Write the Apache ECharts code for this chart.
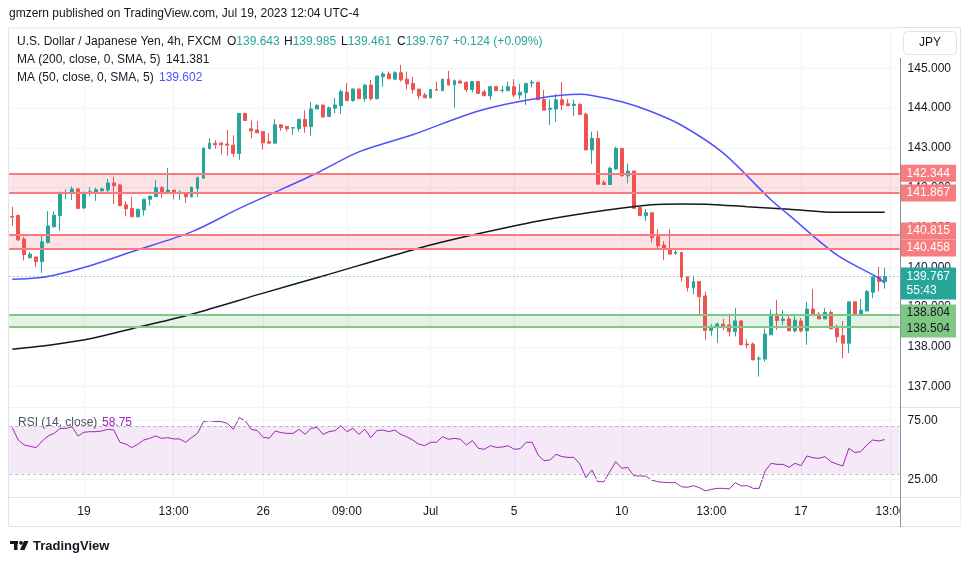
<!DOCTYPE html>
<html>
<head>
<meta charset="utf-8">
<script src="https://cdn.jsdelivr.net/npm/echarts@6/dist/echarts.min.js"></script>
<style>
  html, body { margin: 0; padding: 0; background: #fff; }
  #chart { width: 970px; height: 563px; }
</style>
</head>
<body>
<div id="chart"></div>
<script>
// USD/JPY 4h candles (FXCM), 15 Jun - 19 Jul 2023
var openP = [141.28,141.30,140.71,140.24,140.26,140.14,140.62,141.02,141.30,141.85,
  141.86,141.97,141.49,141.85,141.89,141.92,141.94,142.12,142.07,141.57,
  141.48,141.27,141.44,141.71,141.78,142.00,141.88,141.94,141.88,141.88,
  141.77,141.98,142.24,142.98,143.12,143.12,143.10,143.07,142.86,143.87,
  143.48,143.45,143.41,143.16,143.12,143.58,143.54,143.50,143.49,143.72,
  143.54,143.98,144.08,143.79,144.00,144.06,144.40,144.19,144.48,144.24,
  144.58,144.24,144.79,144.86,144.73,144.89,144.73,144.62,144.48,144.33,
  144.26,144.47,144.44,144.73,144.59,144.68,144.65,144.47,144.67,144.41,
  144.31,144.54,144.44,144.44,144.54,144.33,144.39,144.63,144.65,144.22,
  143.97,143.98,144.21,144.11,144.07,144.09,143.85,142.95,143.24,142.13,
  142.08,142.47,142.99,142.30,142.42,141.50,141.30,141.37,140.77,140.56,
  140.47,140.35,140.37,139.76,139.49,139.64,139.28,138.41,138.48,138.57,
  138.55,138.38,138.65,138.07,138.07,137.69,137.69,138.30,138.82,138.66,
  138.70,138.40,138.65,138.40,138.95,138.82,138.70,138.86,138.46,138.28,
  138.09,139.13,138.80,138.90,139.37,139.76,139.643];
var closeP = [141.26,140.69,140.32,140.33,140.14,140.64,141.04,141.31,141.88,141.88,
  141.97,141.48,141.88,141.90,141.95,141.97,142.12,142.05,141.55,141.47,
  141.27,141.46,141.71,141.79,142.00,141.88,141.94,141.88,141.89,141.77,
  142.01,142.25,143.00,143.12,143.08,143.08,143.07,142.86,143.87,143.69,
  143.43,143.38,143.13,143.12,143.58,143.51,143.48,143.51,143.72,143.54,
  143.98,144.07,143.78,144.01,144.08,144.42,144.19,144.48,144.24,144.58,
  144.24,144.81,144.86,144.74,144.89,144.71,144.61,144.47,144.31,144.26,
  144.47,144.45,144.73,144.58,144.69,144.63,144.47,144.67,144.37,144.31,
  144.54,144.44,144.45,144.54,144.33,144.40,144.62,144.65,144.21,143.95,
  144.00,144.21,144.08,144.06,144.10,143.84,142.95,143.24,142.09,142.08,
  142.49,142.99,142.30,142.42,141.48,141.30,141.37,140.74,140.54,140.46,
  140.33,140.37,139.75,139.49,139.64,139.26,138.41,138.51,138.57,138.52,
  138.38,138.65,138.05,138.05,137.67,137.71,138.32,138.82,138.66,138.70,
  138.40,138.67,138.40,138.95,138.80,138.70,138.86,138.45,138.25,138.09,
  139.13,138.80,138.92,139.39,139.76,139.64,139.767];
var lowP = [141.04,140.66,140.17,140.22,140.01,139.86,140.60,141.00,140.92,141.71,
  141.69,141.46,141.46,141.79,141.67,141.92,141.84,141.59,141.53,141.28,
  141.27,141.25,141.30,141.55,141.77,141.73,141.88,141.71,141.69,141.62,
  141.76,141.77,142.23,142.98,142.98,142.84,142.80,142.78,142.70,143.69,
  143.24,143.38,142.96,143.12,143.12,143.43,143.41,143.33,143.41,143.38,
  143.30,143.98,143.76,143.79,143.87,143.85,144.19,144.16,144.24,144.16,
  144.19,144.22,144.54,144.74,144.71,144.67,144.47,144.37,144.22,144.25,
  144.25,144.45,144.43,144.57,144.01,144.63,144.41,144.40,144.36,144.31,
  144.21,144.44,144.39,144.44,144.27,144.22,144.08,144.52,144.21,143.94,
  143.58,143.66,143.95,144.06,143.80,143.84,142.95,142.60,142.09,142.08,
  142.08,142.45,142.28,142.11,141.48,141.30,141.17,140.62,140.45,140.18,
  140.33,140.31,139.64,139.39,139.32,138.77,138.17,138.28,138.10,138.41,
  138.26,138.26,138.05,137.96,137.67,137.25,137.63,138.30,138.42,138.55,
  138.40,138.36,138.36,138.05,138.80,138.70,138.70,138.45,138.11,137.71,
  137.84,138.78,138.80,138.90,139.22,139.39,139.461];
var highP = [141.52,141.33,140.77,140.38,140.26,140.79,141.41,141.40,141.90,141.96,
  142.03,141.98,141.90,142.01,142.00,142.01,142.22,142.28,142.09,141.66,
  141.77,141.46,141.71,141.80,142.19,142.04,142.50,141.94,141.93,141.88,
  142.03,142.28,143.01,143.24,143.20,143.16,143.45,143.32,143.87,143.87,
  143.69,143.68,143.41,143.37,143.72,143.60,143.55,143.51,143.72,143.95,
  144.16,144.10,144.08,144.04,144.26,144.47,144.63,144.50,144.50,144.61,
  144.71,144.81,144.92,144.92,144.93,145.09,144.92,144.79,144.48,144.39,
  144.48,144.67,144.73,144.94,144.72,144.72,144.68,144.68,144.68,144.47,
  144.57,144.56,144.56,144.67,144.73,144.61,144.64,144.71,144.65,144.46,
  144.22,144.36,144.66,144.23,144.21,144.13,143.89,143.41,143.43,142.19,
  142.53,143.03,142.99,142.61,142.42,141.52,141.46,141.37,140.96,140.66,
  140.96,140.49,140.39,139.76,139.78,139.64,139.39,138.57,138.61,138.70,
  138.84,138.97,138.67,138.19,138.11,137.77,138.46,138.93,139.18,138.92,
  138.80,138.80,138.72,139.13,139.45,138.88,138.97,138.92,138.56,138.65,
  139.13,139.13,139.20,139.43,139.76,140.01,139.985];

// moving averages (shifted 5 bars), read as [bar, value]
var ma200Pts = [[0,137.94],[7,138.06],[13,138.20],[21,138.49],[30,138.82],[42,139.35],[52,139.78],
  [68,140.48],[77,140.81],[89,141.19],[107,141.57],[112,141.59],[117,141.58],[123,141.52],
  [130,141.46],[138,141.38],[146,141.38]];
var ma50Pts = [[0,139.70],[4,139.73],[7,139.80],[13,140.04],[20,140.39],[30,140.89],[38,141.48],
  [43,141.82],[51,142.37],[58,142.90],[67,143.33],[78,143.93],[88,144.25],[95,144.35],[97,144.32],
  [102,144.16],[107,143.91],[112,143.57],[119,142.87],[127,141.69],[130,141.31],[138,140.31],
  [145,139.73],[146,139.60]];

var rsi = [68.8,58.4,54.2,53.1,52.0,57.6,61.8,64.0,68.2,68.2,
  69.6,61.8,64.9,65.4,65.4,66.0,67.4,66.8,56.5,55.0,
  52.0,54.8,58.4,59.8,61.8,59.8,60.4,59.3,59.3,56.5,
  60.4,64.0,73.9,74.7,73.9,73.9,72.4,67.4,77.2,74.4,
  67.4,66.3,60.7,59.8,66.0,64.6,64.0,64.0,67.4,63.2,
  68.2,69.1,63.2,65.4,66.3,70.5,65.4,68.2,63.2,67.4,
  60.4,66.3,66.8,65.4,66.8,63.2,61.2,58.4,55.0,53.6,
  56.5,56.5,61.2,59.0,59.8,59.0,54.2,57.9,51.4,50.6,
  53.6,52.2,52.5,53.6,50.6,51.1,56.5,56.5,45.8,41.0,
  41.6,46.4,44.4,43.8,43.8,38.2,26.7,33.2,23.3,23.3,
  31.8,40.2,34.6,35.4,28.4,28.1,28.1,24.7,23.3,22.8,
  22.5,22.5,19.1,18.6,20.0,18.3,15.5,16.9,17.7,17.7,
  17.2,22.5,19.7,20.0,17.7,17.7,32.3,38.8,37.9,37.9,
  35.4,38.8,36.8,45.0,43.5,43.0,44.4,40.2,38.2,36.5,
  51.4,48.0,48.6,54.2,58.4,57.6,58.75];

// time axis
var slotCount = 149;
var tickIndex = [12, 27, 42, 56, 70, 84, 102, 117, 132, 147];
var tickLabels = ['19', '13:00', '26', '09:00', 'Jul', '5', '10', '13:00', '17', '13:00'];

// horizontal levels drawn on the chart
var redZones = [[141.867, 142.344], [140.458, 140.815]];
var greenZone = [138.504, 138.804];
var lastPrice = 139.767;

var FONT = '"Liberation Sans", Arial, sans-serif';
var UP = '#26a69a', DOWN = '#ef5350', GRID = '#f0f3fa', TXT = '#131722';
var RED_LINE = '#f77c80', GREEN_LINE = '#81c784';

var categories = [];
for (var s = 0; s < slotCount; s++) categories.push(String(s));
var candles = openP.map(function (o, i) { return [o, closeP[i], lowP[i], highP[i]]; });

function isTick(i) { return tickIndex.indexOf(i) >= 0; }

function xAxisFor(gridIndex, withLabels) {
  return {
    type: 'category', gridIndex: gridIndex, data: categories, boundaryGap: true,
    axisLine: { show: false }, axisTick: { show: false },
    axisLabel: {
      show: withLabels, interval: function (i) { return isTick(i); },
      formatter: function (v, i) { var k = tickIndex.indexOf(i); return k >= 0 ? tickLabels[k] : ''; },
      color: TXT, fontSize: 12, fontFamily: FONT, margin: 9
    },
    splitLine: { show: true, interval: function (i) { return isTick(i); }, alignWithLabel: true, lineStyle: { color: GRID } }
  };
}

function boxLabel(text, bg, fg, dy) {
  return {
    show: true, position: 'end', formatter: text, backgroundColor: bg, color: fg,
    padding: [3, 6, 2, 6], fontSize: 12, fontFamily: FONT, distance: 1, offset: [0, dy || 0]
  };
}
function level(v, color, text, fg, dy) {
  return { yAxis: v, lineStyle: { color: color, width: 2, type: 'solid' }, label: boxLabel(text, color, fg, dy) };
}

var chart = echarts.init(document.getElementById('chart'));

var option = {
  animation: false,
  backgroundColor: '#fff',
  grid: [
    { left: 9.3, top: 27, width: 890.3, height: 380 },
    { left: 9.3, top: 408, width: 890.3, height: 89 }
  ],
  xAxis: [xAxisFor(0, false), xAxisFor(1, true)],
  yAxis: [
    {
      type: 'value', gridIndex: 0, position: 'right', min: 136.486, max: 146.041, splitNumber: 10,
      axisLine: { show: false }, axisTick: { show: false },
      axisLabel: {
        color: TXT, fontSize: 12, fontFamily: FONT, margin: 8, showMinLabel: false, showMaxLabel: false,
        formatter: function (v) { return (v > 136.9 && v < 145.5) ? v.toFixed(3) : ''; }
      },
      splitLine: { lineStyle: { color: GRID } }
    },
    {
      type: 'value', gridIndex: 1, position: 'right', min: 10.44, max: 85.35,
      axisLine: { show: false }, axisTick: { show: false }, axisLabel: { show: false },
      splitLine: { show: false }
    }
  ],
  series: [
    {
      name: 'USDJPY', type: 'candlestick', xAxisIndex: 0, yAxisIndex: 0, data: candles,
      barWidth: 3.4, z: 2,
      itemStyle: { color: UP, color0: DOWN, borderColor: UP, borderColor0: DOWN, borderWidth: 1 },
      markArea: {
        silent: true,
        data: [
          [{ yAxis: redZones[0][0], itemStyle: { color: 'rgba(242,54,69,0.14)' } }, { yAxis: redZones[0][1] }],
          [{ yAxis: redZones[1][0], itemStyle: { color: 'rgba(242,54,69,0.14)' } }, { yAxis: redZones[1][1] }],
          [{ yAxis: greenZone[0], itemStyle: { color: 'rgba(76,175,80,0.15)' } }, { yAxis: greenZone[1] }]
        ]
      },
      markLine: {
        silent: true, symbol: ['none', 'none'],
        data: [
          level(redZones[0][1], RED_LINE, '142.344', '#fff', -1),
          level(redZones[0][0], RED_LINE, '141.867', '#fff', 0),
          level(redZones[1][1], RED_LINE, '140.815', '#fff', -4),
          level(redZones[1][0], RED_LINE, '140.458', '#fff', -1),
          level(greenZone[1], GREEN_LINE, '138.804', TXT, -2),
          level(greenZone[0], GREEN_LINE, '138.504', TXT, 2),
          {
            yAxis: lastPrice, lineStyle: { color: UP, width: 1, type: [1, 3] },
            label: {
              show: true, position: 'end', formatter: '139.767\n55:43', backgroundColor: UP, color: '#fff',
              padding: [2, 6, 2, 6], lineHeight: 14, fontSize: 12, fontFamily: FONT, distance: 1, offset: [0, 7]
            }
          }
        ]
      }
    },
    {
      name: 'MA200', type: 'line', xAxisIndex: 0, yAxisIndex: 0, data: ma200Pts, z: 3,
      smooth: 0.3, showSymbol: false,
      lineStyle: { color: '#131722', width: 1.5 }
    },
    {
      name: 'MA50', type: 'line', xAxisIndex: 0, yAxisIndex: 0, data: ma50Pts, z: 3,
      smooth: 0.3, showSymbol: false,
      lineStyle: { color: '#5050ff', width: 1.5 }
    },
    {
      name: 'RSI', type: 'line', xAxisIndex: 1, yAxisIndex: 1, data: rsi, z: 3,
      showSymbol: false, lineStyle: { color: '#9c27b0', width: 1 },
      markArea: { silent: true, data: [[{ yAxis: 30, itemStyle: { color: 'rgba(156,39,176,0.1)' } }, { yAxis: 70 }]] },
      markLine: {
        silent: true, symbol: ['none', 'none'],
        data: [
          { yAxis: 75, lineStyle: { color: GRID, width: 1, type: 'solid' },
            label: { show: true, position: 'end', formatter: '75.00', color: TXT, fontSize: 12, fontFamily: FONT, distance: 8 } },
          { yAxis: 25, lineStyle: { color: GRID, width: 1, type: 'solid' },
            label: { show: true, position: 'end', formatter: '25.00', color: TXT, fontSize: 12, fontFamily: FONT, distance: 8 } },
          { yAxis: 70, lineStyle: { color: 'rgba(120,123,134,0.5)', width: 1, type: [3, 3] }, label: { show: false } },
          { yAxis: 30, lineStyle: { color: 'rgba(120,123,134,0.5)', width: 1, type: [3, 3] }, label: { show: false } }
        ]
      }
    }
  ],
  graphic: [
    { type: 'rect', silent: true, z: 0, shape: { x: 8.5, y: 27.5, width: 952, height: 499 }, style: { fill: 'none', stroke: '#e0e3eb', lineWidth: 1 } },
    { type: 'line', silent: true, z: 0, shape: { x1: 8, y1: 407.5, x2: 961, y2: 407.5 }, style: { stroke: '#e0e3eb', lineWidth: 1 } },
    { type: 'line', silent: true, z: 0, shape: { x1: 8, y1: 497.5, x2: 961, y2: 497.5 }, style: { stroke: '#e0e3eb', lineWidth: 1 } },
    { type: 'rect', silent: true, z: 100, shape: { x: 900.5, y: 498, width: 60, height: 28 }, style: { fill: '#fff' } },
    { type: 'line', silent: true, z: 101, shape: { x1: 900.5, y1: 58, x2: 900.5, y2: 527 }, style: { stroke: '#8f929b', lineWidth: 1 } },
    { type: 'rect', silent: true, z: 101, shape: { x: 903.5, y: 31.5, width: 53, height: 23, r: 4 }, style: { fill: '#fff', stroke: '#e0e3eb', lineWidth: 1 } },
    { type: 'text', silent: true, z: 102, x: 930, y: 43, style: { text: 'JPY', fill: TXT, font: '12px ' + FONT, align: 'center', verticalAlign: 'middle' } },

    { type: 'text', silent: true, z: 102, x: 9, y: 14, style: { text: 'gmzern published on TradingView.com, Jul 19, 2023 12:04 UTC-4', fill: TXT, font: '12px ' + FONT, verticalAlign: 'middle' } },
    { type: 'text', silent: true, z: 102, x: 17, y: 42, style: { text: 'U.S. Dollar / Japanese Yen, 4h, FXCM', fill: TXT, font: '12px ' + FONT, verticalAlign: 'middle' } },
    { type: 'text', silent: true, z: 102, x: 227, y: 42, style: { text: 'O', fill: TXT, font: '12px ' + FONT, verticalAlign: 'middle' } },
    { type: 'text', silent: true, z: 102, x: 236.3, y: 42, style: { text: '139.643', fill: UP, font: '12px ' + FONT, verticalAlign: 'middle' } },
    { type: 'text', silent: true, z: 102, x: 284, y: 42, style: { text: 'H', fill: TXT, font: '12px ' + FONT, verticalAlign: 'middle' } },
    { type: 'text', silent: true, z: 102, x: 292.7, y: 42, style: { text: '139.985', fill: UP, font: '12px ' + FONT, verticalAlign: 'middle' } },
    { type: 'text', silent: true, z: 102, x: 341, y: 42, style: { text: 'L', fill: TXT, font: '12px ' + FONT, verticalAlign: 'middle' } },
    { type: 'text', silent: true, z: 102, x: 347.7, y: 42, style: { text: '139.461', fill: UP, font: '12px ' + FONT, verticalAlign: 'middle' } },
    { type: 'text', silent: true, z: 102, x: 397, y: 42, style: { text: 'C', fill: TXT, font: '12px ' + FONT, verticalAlign: 'middle' } },
    { type: 'text', silent: true, z: 102, x: 405.7, y: 42, style: { text: '139.767', fill: UP, font: '12px ' + FONT, verticalAlign: 'middle' } },
    { type: 'text', silent: true, z: 102, x: 453, y: 42, style: { text: '+0.124 (+0.09%)', fill: UP, font: '12px ' + FONT, verticalAlign: 'middle' } },
    { type: 'text', silent: true, z: 102, x: 17, y: 60, style: { text: 'MA (200, close, 0, SMA, 5)', fill: TXT, font: '12px ' + FONT, verticalAlign: 'middle' } },
    { type: 'text', silent: true, z: 102, x: 166, y: 60, style: { text: '141.381', fill: TXT, font: '12px ' + FONT, verticalAlign: 'middle' } },
    { type: 'text', silent: true, z: 102, x: 17, y: 78, style: { text: 'MA (50, close, 0, SMA, 5)', fill: TXT, font: '12px ' + FONT, verticalAlign: 'middle' } },
    { type: 'text', silent: true, z: 102, x: 159, y: 78, style: { text: '139.602', fill: '#5050ff', font: '12px ' + FONT, verticalAlign: 'middle' } },
    { type: 'text', silent: true, z: 102, x: 18, y: 423, style: { text: 'RSI (14, close)', fill: '#50535e', font: '12px ' + FONT, verticalAlign: 'middle' } },
    { type: 'text', silent: true, z: 102, x: 102, y: 423, style: { text: '58.75', fill: '#9c27b0', font: '12px ' + FONT, verticalAlign: 'middle' } },

    // TradingView logo
    { type: 'rect', silent: true, z: 102, shape: { x: 10, y: 541, width: 8, height: 3 }, style: { fill: TXT } },
    { type: 'rect', silent: true, z: 102, shape: { x: 14, y: 541, width: 3.5, height: 9 }, style: { fill: TXT } },
    { type: 'circle', silent: true, z: 102, shape: { cx: 21, cy: 542.8, r: 1.9 }, style: { fill: TXT } },
    { type: 'polygon', silent: true, z: 102, shape: { points: [[24, 541], [28.5, 541], [24.5, 550], [20, 550]] }, style: { fill: TXT } },
    { type: 'text', silent: true, z: 102, x: 33, y: 546, style: { text: 'TradingView', fill: TXT, font: 'bold 13px ' + FONT, verticalAlign: 'middle' } }
  ]
};

chart.setOption(option);
</script>
</body>
</html>
